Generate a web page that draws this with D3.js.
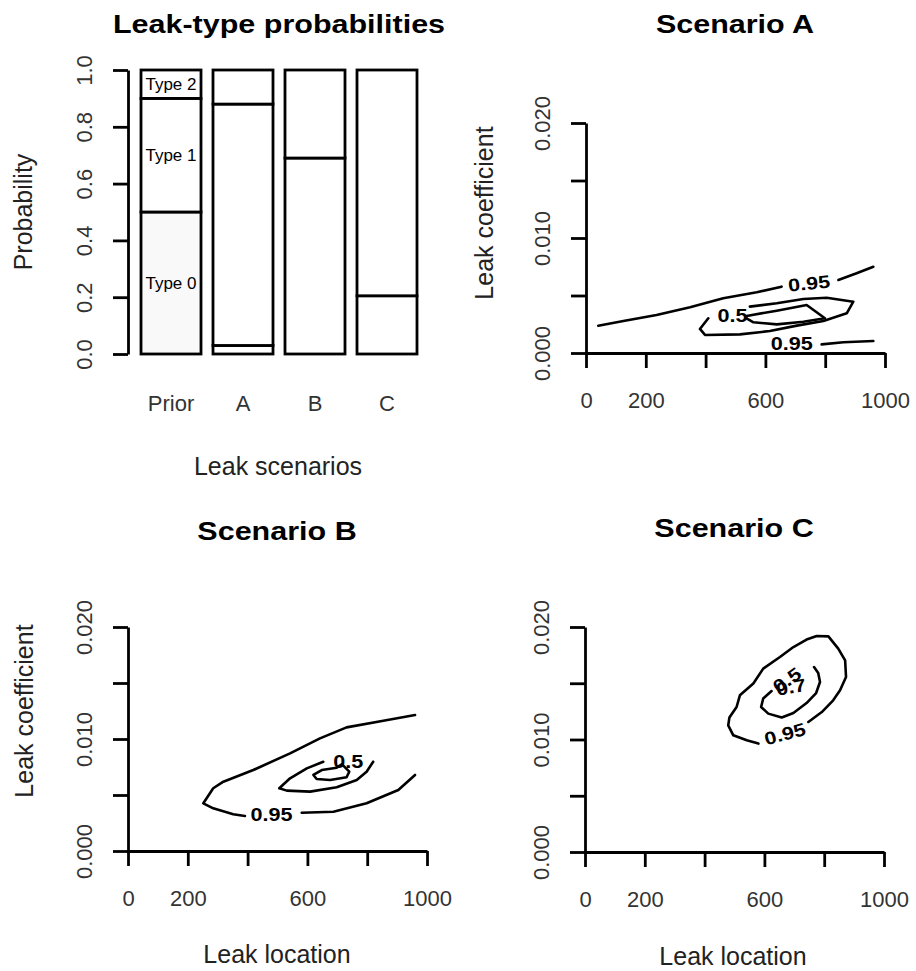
<!DOCTYPE html>
<html>
<head>
<meta charset="utf-8">
<script src="https://cdn.jsdelivr.net/npm/d3@7"></script>
<style>
    body { margin: 0; background: #fff; }
    svg text { font-family: "Liberation Sans", Arial, sans-serif; }
</style>
</head>
<body>
<div class="canvas"></div>
<script>
// ---- data ----
const scenarios = ['Prior', 'A', 'B', 'C'];
const leakTypes = ['Type 0', 'Type 1', 'Type 2'];
const type0 = [0.5, 0.03, 0.0, 0.205];
const type1 = [0.4, 0.85, 0.69, 0.795];
const type2 = [0.1, 0.12, 0.31, 0.0];

const probTicks = [0, 0.2, 0.4, 0.6, 0.8, 1.0];
const locTicks = [0, 200, 400, 600, 800, 1000];
const locLabels = ['0', '200', '', '600', '', '1000'];
const coefTicks = [0, 0.005, 0.01, 0.015, 0.02];
const coefLabels = ['0.000', '', '0.010', '', '0.020'];

// contour lines as [leak location, leak coefficient]
const linesA = [
    [[41, 0.00237], [125, 0.00278], [236, 0.00330], [348, 0.00397], [459, 0.00476], [571, 0.00528], [654, 0.00577]],
    [[844, 0.00635], [905, 0.00693], [961, 0.00750]],
    [[788, 0.00075], [861, 0.00093], [961, 0.00104]],
    [[409, 0.00302], [381, 0.00209], [398, 0.00157], [515, 0.00162], [615, 0.00191], [705, 0.00238], [794, 0.00278],
     [872, 0.00345], [894, 0.00446], [805, 0.00481], [727, 0.00470], [638, 0.00432], [548, 0.00403]],
    [[537, 0.00322], [638, 0.00368], [738, 0.00417], [799, 0.00302], [727, 0.00272], [638, 0.00249], [560, 0.00267],
     [537, 0.00302], [537, 0.00322]]
];
const labelsA = [
    [490, 0.00323, '0.5', 0],
    [746, 0.00606, '0.95', -6],
    [688, 0.00078, '0.95', 0]
];

const linesB = [
    [[960, 0.01214], [854, 0.01163], [731, 0.01104], [642, 0.01006], [542, 0.00872], [419, 0.00723], [319, 0.00619],
     [285, 0.00560], [252, 0.00426], [285, 0.00381], [352, 0.00328], [391, 0.00313]],
    [[581, 0.00342], [687, 0.00351], [798, 0.00426], [904, 0.00545], [960, 0.00679]],
    [[653, 0.00797], [598, 0.00738], [542, 0.00649], [506, 0.00560], [531, 0.00539], [609, 0.00530], [698, 0.00569],
     [765, 0.00634], [798, 0.00708], [820, 0.00797]],
    [[620, 0.00679], [648, 0.00723], [698, 0.00744], [715, 0.00775], [740, 0.00708], [731, 0.00658], [676, 0.00634],
     [631, 0.00643], [620, 0.00679]]
];
const labelsB = [
    [737, 0.00795, '0.5', 0],
    [480, 0.00321, '0.95', 0]
];

const linesC = [
    [[747, 0.01156], [792, 0.01244], [830, 0.01348], [853, 0.01437], [873, 0.01556], [870, 0.01704], [847, 0.01808],
     [814, 0.01917], [775, 0.01920], [741, 0.01888], [697, 0.01822], [652, 0.01733], [596, 0.01630], [563, 0.01497],
     [518, 0.01393], [507, 0.01289], [483, 0.01195], [479, 0.01126], [496, 0.01037], [541, 0.00993], [580, 0.00964]],
    [[624, 0.01431], [596, 0.01364], [589, 0.01289], [613, 0.01230], [658, 0.01195], [697, 0.01236], [741, 0.01324],
     [773, 0.01413], [786, 0.01511], [780, 0.01591], [766, 0.01644]]
];
const labelsC = [
    [669, 0.0105, '0.95', -15],
    [675, 0.01529, '0.5', -35],
    [689, 0.01467, '0.7', -10]
];

// ---- drawing ----
const ink = '#000';
const lw = 2.8;

const svg = d3.select('.canvas')
    .append('svg')
    .attr('width', 916)
    .attr('height', 971)
;

// stretch text a bit wider, the scan is wider than the font
const widen = (sel, k) => sel.each(function () {
    const w = this.getComputedTextLength();
    d3.select(this).attr('textLength', w * k).attr('lengthAdjust', 'spacingAndGlyphs');
});

const title = (txt, x, y) => {
    svg.append('text')
        .attr('x', x).attr('y', y)
        .attr('text-anchor', 'middle')
        .attr('font-size', 25)
        .attr('font-weight', 'bold')
        .attr('fill', ink)
        .text(txt)
        .call(widen, 1.22);
};

const axisTitle = (txt, x, y, rotated) => {
    svg.append('text')
        .attr('transform', rotated ? `translate(${x},${y}) rotate(-90)` : `translate(${x},${y})`)
        .attr('text-anchor', 'middle')
        .attr('font-size', 25)
        .attr('fill', '#222')
        .text(txt);
};

const styleAxis = (g) => {
    g.attr('font-size', null).attr('font-family', null);
    g.select('.domain').attr('stroke', ink).attr('stroke-width', lw);
    g.selectAll('.tick line').attr('stroke', ink).attr('stroke-width', lw);
    g.selectAll('.tick text').attr('fill', '#333').attr('font-size', 22);
};

const rotateLeftLabels = (g, off) => {
    g.selectAll('.tick text')
        .attr('transform', 'rotate(-90)')
        .attr('x', 0)
        .attr('y', -off)
        .attr('dy', 0)
        .attr('text-anchor', 'middle');
};

const dropBottomLabels = (g, off) => {
    g.selectAll('.tick text').attr('y', off).attr('dy', 0);
};

// panel 1: stacked leak-type probabilities
const band = d3.scaleBand()
    .domain(scenarios)
    .range([141, 417])
    .paddingInner(0.2 / 1.2)
;
const yProb = d3.scaleLinear().domain([0, 1]).range([354, 70]);

const rows = scenarios.map((s, i) => ({ scenario: s, 'Type 0': type0[i], 'Type 1': type1[i], 'Type 2': type2[i] }));
const stacked = d3.stack().keys(leakTypes)(rows);

const bars = svg.append('g');
stacked.forEach(series => {
    bars.selectAll(null)
        .data(series)
        .enter()
        .append('rect')
        .attr('x', d => band(d.data.scenario))
        .attr('y', d => yProb(d[1]))
        .attr('width', band.bandwidth())
        .attr('height', d => yProb(d[0]) - yProb(d[1]))
        .attr('fill', d => (series.key === 'Type 0' && d.data.scenario === 'Prior') ? '#f9f9f9' : '#fff')
        .attr('stroke', ink)
        .attr('stroke-width', lw)
    ;
});

// type names inside the prior bar
bars.selectAll('text.type')
    .data(stacked.map(s => ({ key: s.key, d: s[0] })))
    .enter()
    .append('text')
    .attr('class', 'type')
    .attr('x', v => band('Prior') + band.bandwidth() / 2)
    .attr('y', v => yProb((v.d[0] + v.d[1]) / 2))
    .attr('dy', '0.35em')
    .attr('text-anchor', 'middle')
    .attr('font-size', 17)
    .attr('fill', ink)
    .text(v => v.key)
;

svg.append('g')
    .attr('transform', 'translate(128,0)')
    .call(d3.axisLeft(yProb).tickValues(probTicks).tickSize(15).tickSizeOuter(0).tickFormat(d3.format('.1f')))
    .call(styleAxis)
    .call(rotateLeftLabels, 36)
;

const scenAxis = svg.append('g')
    .attr('transform', 'translate(0,354)')
    .call(d3.axisBottom(band).tickSize(0))
    .call(styleAxis)
    .call(dropBottomLabels, 57)
;
scenAxis.select('.domain').remove();

title('Leak-type probabilities', 279, 33);
axisTitle('Probability', 32, 212, true);
axisTitle('Leak scenarios', 278, 475, false);

// contour panels
const contourPanel = (cfg) => {
    const x = d3.scaleLinear().domain([0, 1000]).range([cfg.left, cfg.right]);
    const y = d3.scaleLinear().domain([0, 0.02]).range([cfg.bottom, cfg.top]);

    const line = d3.line()
        .x(d => x(d[0]))
        .y(d => y(d[1]))
    ;

    const g = svg.append('g');

    g.selectAll('path.contour')
        .data(cfg.lines)
        .enter()
        .append('path')
        .attr('class', 'contour')
        .attr('d', line)
        .attr('fill', 'none')
        .attr('stroke', ink)
        .attr('stroke-width', 2.6)
        .attr('stroke-linejoin', 'round')
        .attr('stroke-linecap', 'round')
    ;

    g.selectAll('text.lev')
        .data(cfg.labels)
        .enter()
        .append('text')
        .attr('class', 'lev')
        .attr('transform', d => `translate(${x(d[0])},${y(d[1])}) rotate(${d[3]})`)
        .attr('dy', '0.35em')
        .attr('text-anchor', 'middle')
        .attr('font-size', 18)
        .attr('font-weight', 'bold')
        .attr('fill', ink)
        .text(d => d[2])
        .call(widen, 1.2)
    ;

    svg.append('g')
        .attr('transform', `translate(${cfg.left},0)`)
        .call(d3.axisLeft(y).tickValues(coefTicks).tickSize(15).tickSizeOuter(0)
            .tickFormat((d, i) => coefLabels[i]))
        .call(styleAxis)
        .call(rotateLeftLabels, 36)
    ;

    svg.append('g')
        .attr('transform', `translate(0,${cfg.bottom})`)
        .call(d3.axisBottom(x).tickValues(locTicks).tickSize(15).tickSizeOuter(0)
            .tickFormat((d, i) => locLabels[i]))
        .call(styleAxis)
        .call(dropBottomLabels, 55)
    ;

    title(cfg.name, cfg.titleX, cfg.titleY);
};

contourPanel({ name: 'Scenario A', lines: linesA, labels: labelsA,
    left: 586, right: 885, bottom: 353, top: 123, titleX: 735, titleY: 33 });
contourPanel({ name: 'Scenario B', lines: linesB, labels: labelsB,
    left: 128, right: 427, bottom: 851, top: 627, titleX: 277, titleY: 540 });
contourPanel({ name: 'Scenario C', lines: linesC, labels: labelsC,
    left: 585, right: 884, bottom: 852, top: 627, titleX: 734, titleY: 537 });

axisTitle('Leak coefficient', 493, 213, true);
axisTitle('Leak coefficient', 33, 711, true);
axisTitle('Leak location', 277, 963, false);
axisTitle('Leak location', 733, 965, false);
</script>
</body>
</html>
